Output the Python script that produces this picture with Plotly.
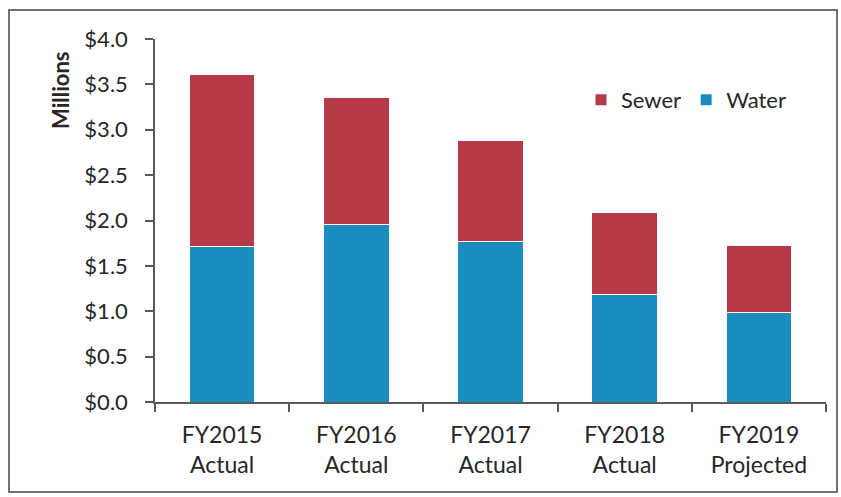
import plotly.graph_objects as go

# Annual revenue by utility, in millions of dollars
categories = ["FY2015<br>Actual", "FY2016<br>Actual", "FY2017<br>Actual",
              "FY2018<br>Actual", "FY2019<br>Projected"]
water = [1.71, 1.96, 1.77, 1.18, 0.99]
sewer = [1.90, 1.40, 1.11, 0.91, 0.73]

WATER_COLOR = "#1b8cc0"
SEWER_COLOR = "#b63a48"
AXIS_COLOR = "#5a5a5a"
TEXT_COLOR = "#262626"
FONT = "Lato"

fig = go.Figure()
fig.add_trace(go.Bar(x=categories, y=water, name="Water",
                     marker=dict(color=WATER_COLOR, line=dict(color="white", width=1))))
fig.add_trace(go.Bar(x=categories, y=sewer, name="Sewer",
                     marker=dict(color=SEWER_COLOR, line=dict(color="white", width=1))))

W, H = 841, 497
ml, mr, mt, mb = 155, 15, 39, 95
pw, ph = W - ml - mr, H - mt - mb

def px_to_paper_x(px):
    return (px - ml) / pw

def px_to_paper_y(py):
    return (H - mb - py) / ph

fig.update_layout(
    width=W, height=H,
    margin=dict(l=ml, r=mr, t=mt, b=mb),
    barmode="stack",
    bargap=0.51,
    paper_bgcolor="white",
    plot_bgcolor="white",
    font=dict(family=FONT, color=TEXT_COLOR, size=22),
    legend=dict(orientation="h", traceorder="reversed",
                x=px_to_paper_x(581), y=px_to_paper_y(79),
                xanchor="left", yanchor="top",
                font=dict(size=22, family=FONT, color=TEXT_COLOR),
                bgcolor="rgba(0,0,0,0)", itemwidth=30, tracegroupgap=0),
    showlegend=True,
    xaxis=dict(
        showline=True, linecolor=AXIS_COLOR, linewidth=1.5,
        ticks="outside", tickson="boundaries", ticklen=8,
        tickcolor=AXIS_COLOR, tickwidth=1.5,
        tickfont=dict(size=23, family=FONT, color=TEXT_COLOR),
        ticklabelstandoff=12,
        showgrid=False, fixedrange=True,
    ),
    yaxis=dict(
        range=[0, 4.0], dtick=0.5, tickformat="$.1f",
        showline=True, linecolor=AXIS_COLOR, linewidth=1.5,
        ticks="outside", ticklen=8, tickcolor=AXIS_COLOR, tickwidth=1.5,
        tickfont=dict(size=22, family=FONT, color=TEXT_COLOR),
        ticklabelstandoff=13,
        showgrid=False, zeroline=False,
    ),
    annotations=[dict(
        text="<b>Millions</b>", textangle=-90, showarrow=False,
        xref="paper", yref="paper",
        x=px_to_paper_x(60), y=px_to_paper_y(91),
        xanchor="center", yanchor="middle",
        font=dict(size=22, family=FONT, color=TEXT_COLOR),
    )],
    shapes=[dict(
        type="rect", xref="paper", yref="paper",
        x0=px_to_paper_x(9), x1=px_to_paper_x(837),
        y0=px_to_paper_y(492), y1=px_to_paper_y(10),
        line=dict(color="#444444", width=1.5), fillcolor="rgba(0,0,0,0)",
        layer="below",
    )],
)

fig.write_html("out.html")
